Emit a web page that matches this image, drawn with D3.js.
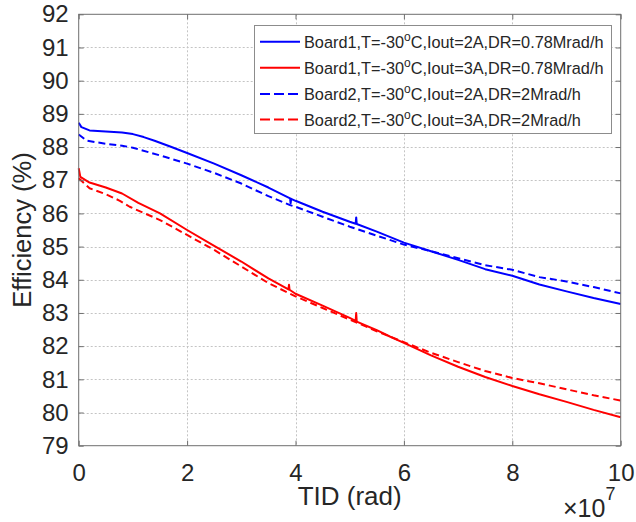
<!DOCTYPE html>
<html>
<head>
<meta charset="utf-8">
<script src="https://cdn.jsdelivr.net/npm/d3@7"></script>
<style>
  html, body { margin: 0; padding: 0; background: #fff; }
  svg { display: block; font-family: "Liberation Sans", Arial, Helvetica, sans-serif; }
</style>
</head>
<body>
<svg id="chart" width="636" height="522"></svg>
<script>
// ---- data (TID in units of 1e7 rad, efficiency in %) ----
const xTicks = [0, 2, 4, 6, 8, 10];
const yTicks = [79, 80, 81, 82, 83, 84, 85, 86, 87, 88, 89, 90, 91, 92];

const seriesNames = [
  "Board1,T=-30|C,Iout=2A,DR=0.78Mrad/h",
  "Board1,T=-30|C,Iout=3A,DR=0.78Mrad/h",
  "Board2,T=-30|C,Iout=2A,DR=2Mrad/h",
  "Board2,T=-30|C,Iout=3A,DR=2Mrad/h"
];

const b1_2A_t = [0, 0.05, 0.2, 0.5, 0.8, 1.0, 1.2, 1.4, 1.7, 2.0, 2.5, 3.0, 3.5, 3.9, 3.91, 3.92, 4.0, 4.5, 5.0, 5.11, 5.12, 5.13, 5.5, 6.0, 6.5, 7.0, 7.5, 8.0, 8.5, 9.0, 9.5, 10.0];
const b1_2A_v = [88.73, 88.6, 88.5, 88.47, 88.44, 88.39, 88.3, 88.19, 88.01, 87.82, 87.5, 87.15, 86.78, 86.45, 86.3, 86.44, 86.38, 86.05, 85.75, 85.69, 85.88, 85.68, 85.45, 85.12, 84.86, 84.6, 84.32, 84.12, 83.86, 83.65, 83.45, 83.27];

const b1_3A_t = [0, 0.03, 0.2, 0.5, 0.8, 1.1, 1.5, 2.0, 2.5, 3.0, 3.5, 3.87, 3.88, 3.89, 4.0, 4.5, 5.0, 5.11, 5.12, 5.13, 5.5, 5.74, 6.0, 6.5, 7.0, 7.5, 8.0, 8.5, 9.0, 9.5, 10.0];
const b1_3A_v = [87.36, 87.1, 86.93, 86.78, 86.6, 86.32, 86.0, 85.5, 85.02, 84.55, 84.04, 83.71, 83.85, 83.7, 83.58, 83.22, 82.85, 82.76, 83.0, 82.74, 82.48, 82.29, 82.1, 81.72, 81.38, 81.07, 80.8, 80.55, 80.32, 80.08, 79.86];

const b2_2A_t = [0, 0.15, 0.5, 0.8, 1.0, 1.3, 1.6, 2.0, 2.5, 3.0, 3.5, 3.9, 4.0, 4.5, 5.0, 5.5, 6.0, 6.5, 7.0, 7.5, 8.0, 8.5, 9.0, 9.5, 10.0];
const b2_2A_v = [88.38, 88.19, 88.1, 88.04, 87.98, 87.84, 87.7, 87.5, 87.22, 86.9, 86.52, 86.25, 86.2, 85.9, 85.6, 85.33, 85.06, 84.86, 84.65, 84.44, 84.3, 84.08, 83.95, 83.78, 83.59];

const b2_3A_t = [0, 0.2, 0.5, 0.76, 0.94, 1.5, 2.0, 2.5, 3.0, 3.5, 4.0, 4.5, 5.0, 5.5, 6.0, 6.5, 7.0, 7.5, 8.0, 8.5, 9.0, 9.5, 10.0];
const b2_3A_v = [87.06, 86.76, 86.58, 86.38, 86.2, 85.8, 85.35, 84.9, 84.4, 83.9, 83.5, 83.15, 82.8, 82.45, 82.12, 81.8, 81.52, 81.25, 81.04, 80.88, 80.7, 80.52, 80.36];

// ---- build ----
const svg = d3.select("#chart");
const L = 78.7, R = 620.7, T = 14.3, B = 445.7;
const x = d3.scaleLinear().domain([0, 10]).range([L, R]);
const y = d3.scaleLinear().domain([79, 92]).range([B, T]);

const textColor = "#262626";
const axisColor = "#6e6e6e";

svg.append("rect").attr("x", L).attr("y", T).attr("width", R - L).attr("height", B - T).attr("fill", "#fff");

// grid
const grid = svg.append("g").attr("stroke", "#c4c4c4").attr("stroke-width", 1).attr("stroke-dasharray", "2,2");
grid.selectAll("line.gx").data(xTicks.slice(1, -1)).join("line")
  .attr("x1", d => Math.round(x(d)) + 0.5).attr("x2", d => Math.round(x(d)) + 0.5)
  .attr("y1", T).attr("y2", B);
grid.selectAll("line.gy").data(yTicks.slice(1, -1)).join("line")
  .attr("y1", d => Math.round(y(d)) + 0.5).attr("y2", d => Math.round(y(d)) + 0.5)
  .attr("x1", L).attr("x2", R);

// series
const series = [
  { t: b1_2A_t, v: b1_2A_v, color: "#0000ff", dash: null },
  { t: b1_3A_t, v: b1_3A_v, color: "#ff0000", dash: null },
  { t: b2_2A_t, v: b2_2A_v, color: "#0000ff", dash: "7,4" },
  { t: b2_3A_t, v: b2_3A_v, color: "#ff0000", dash: "7,4" }
];
const line = d3.line().x(d => x(d[0])).y(d => y(d[1]));
const plot = svg.append("g");
series.forEach(s => {
  const pts = s.t.map((t, i) => [t, s.v[i]]);
  plot.append("path").datum(pts)
    .attr("d", line)
    .attr("fill", "none")
    .attr("stroke", s.color)
    .attr("stroke-width", 2)
    .attr("stroke-linejoin", "round")
    .attr("stroke-dasharray", s.dash);
});

// axes
const fontTick = 24;
const xAxis = d3.axisBottom(x).tickValues(xTicks).tickSize(-5).tickPadding(18).tickFormat(d3.format("d"));
const yAxis = d3.axisLeft(y).tickValues(yTicks).tickSize(-5).tickPadding(10).tickFormat(d3.format("d"));
const xTop = d3.axisTop(x).tickValues(xTicks).tickSize(-5).tickFormat("");
const yRight = d3.axisRight(y).tickValues(yTicks).tickSize(-5).tickFormat("");

function styleAxis(g) {
  g.select(".domain").remove();
  g.selectAll(".tick line").attr("stroke", axisColor);
  g.selectAll(".tick text").attr("fill", textColor).style("font-size", fontTick + "px")
    .style("font-family", "'Liberation Sans', Arial, sans-serif");
}
svg.append("g").attr("transform", `translate(0,${B})`).call(xAxis).call(styleAxis);
svg.append("g").attr("transform", `translate(${L},0)`).call(yAxis).call(styleAxis);
svg.append("g").attr("transform", `translate(0,${T})`).call(xTop).call(styleAxis);
svg.append("g").attr("transform", `translate(${R},0)`).call(yRight).call(styleAxis);

svg.append("rect").attr("x", L).attr("y", T).attr("width", R - L).attr("height", B - T)
  .attr("fill", "none").attr("stroke", axisColor).attr("stroke-width", 1);

// axis labels
svg.append("text").attr("x", (L + R) / 2).attr("y", 505).attr("text-anchor", "middle")
  .attr("fill", textColor).style("font-size", "26px").text("TID (rad)");
svg.append("text").attr("transform", `translate(31,${(T + B) / 2}) rotate(-90)`).attr("text-anchor", "middle")
  .attr("fill", textColor).style("font-size", "25.5px").text("Efficiency (%)");

// exponent
const ex = svg.append("text").attr("x", 563).attr("y", 517).attr("fill", textColor).style("font-size", "25px");
ex.append("tspan").text("\u00d7");
ex.append("tspan").text("10");
ex.append("tspan").attr("dy", -17).style("font-size", "18px").text("7");

// legend
const lg = svg.append("g");
const lgX = 254, lgY = 25, lgW = 357, lgH = 108;
lg.append("rect").attr("x", lgX + 0.5).attr("y", lgY + 0.5).attr("width", lgW).attr("height", lgH)
  .attr("fill", "#fff").attr("stroke", "#8c8c8c").attr("stroke-width", 1);
const rowY = [41.7, 67.7, 94, 119.5];
series.forEach((s, i) => {
  lg.append("line").attr("x1", 260).attr("x2", 300).attr("y1", rowY[i]).attr("y2", rowY[i])
    .attr("stroke", s.color).attr("stroke-width", 2).attr("stroke-dasharray", s.dash ? "10,4" : null);
  const parts = seriesNames[i].split("|");
  const tx = lg.append("text").attr("x", 304).attr("y", rowY[i] + 6).attr("fill", textColor).style("font-size", "16.3px");
  tx.append("tspan").text(parts[0]);
  tx.append("tspan").attr("dy", -7).style("font-size", "12px").text("o");
  tx.append("tspan").attr("dy", 7).text(parts[1]);
});
</script>
</body>
</html>
